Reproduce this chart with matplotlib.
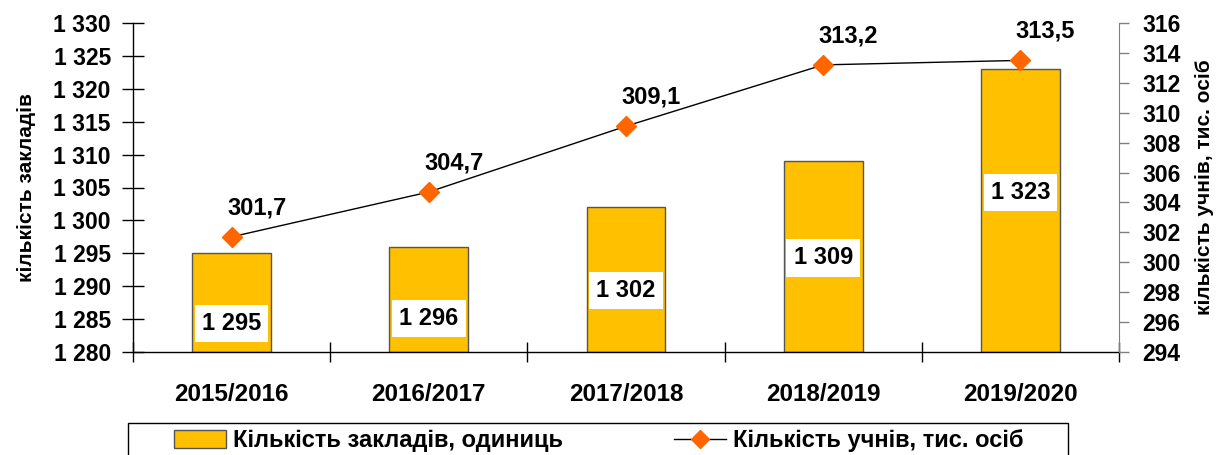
import numpy as np
import matplotlib.pyplot as plt
from matplotlib.lines import Line2D
from matplotlib.patches import Patch, Rectangle

plt.rcParams['font.family'] = ['Liberation Sans', 'DejaVu Sans']
plt.rcParams['font.weight'] = 'bold'

# ── Data ──────────────────────────────────────────────────────────────────────
years    = ['2015/2016', '2016/2017', '2017/2018', '2018/2019', '2019/2020']
schools  = [1295, 1296, 1302, 1309, 1323]          # кількість закладів, одиниць
students = [301.7, 304.7, 309.1, 313.2, 313.5]     # кількість учнів, тис. осіб


def spaced(v):
    return f'{v:,.0f}'.replace(',', ' ')


def comma(v):
    return f'{v:.1f}'.replace('.', ',')


# ── Figure ────────────────────────────────────────────────────────────────────
W, H = 1219, 455
fig = plt.figure(figsize=(W / 100, H / 100), dpi=100)
ax = fig.add_axes([133 / W, 1 - 352 / H, (1119 - 133) / W, (352 - 23) / H])
ax2 = ax.twinx()

x = np.arange(len(years))
bar_col = '#FFC000'
ax.bar(x, [v - 1280 for v in schools], bottom=1280, width=0.4,
       color=bar_col, edgecolor='#555555', linewidth=1.0, zorder=2)

ax.set_xlim(-0.5, len(years) - 0.5)
ax.set_ylim(1280, 1330)
ax.set_yticks(np.arange(1280, 1331, 5))
ax.yaxis.set_major_formatter(plt.FuncFormatter(lambda v, p: spaced(v)))
ax.set_xticks(x)
ax.set_xticklabels(years)
ax.set_xticks(np.arange(-0.5, len(years), 1.0), minor=True)
ax.tick_params(axis='x', which='major', length=0, pad=22, labelsize=17.5)
ax.tick_params(axis='x', which='minor', length=14, direction='inout', width=1)
ax.tick_params(axis='y', direction='inout', length=16, width=1, pad=8, labelsize=16.5)
for lab in ax.get_xticklabels() + ax.get_yticklabels():
    lab.set_fontweight('bold')

ax.spines['top'].set_visible(False)
ax.spines['right'].set_visible(False)
ax.spines['left'].set_linewidth(1)
ax.spines['bottom'].set_linewidth(1)
ax.set_ylabel('кількість закладів', fontsize=15, fontweight='bold', labelpad=12)

# values in white boxes inside the bars
for xi, v in zip(x, schools):
    y_lab = 1280 + 0.71 * (v - 1280) - 6.3
    ax.text(xi, y_lab, spaced(v), ha='center', va='center', fontsize=17,
            fontweight='bold', zorder=3,
            bbox=dict(boxstyle='square,pad=0.3', fc='white', ec='none'))

# ── Line on the secondary axis ───────────────────────────────────────────────
ax2.plot(x, students, color='black', linewidth=1, zorder=4,
         marker='D', markersize=10, markerfacecolor='#FF6600',
         markeredgecolor='#FF6600')
ax2.set_ylim(294, 316)
ax2.set_yticks(np.arange(294, 317, 2))
ax2.tick_params(axis='y', direction='out', length=7, width=1, color='#808080',
                pad=10, labelsize=16.5)
for lab in ax2.get_yticklabels():
    lab.set_fontweight('bold')
for side in ['top', 'left', 'bottom']:
    ax2.spines[side].set_visible(False)
ax2.spines['right'].set_color('#808080')
ax2.set_ylabel('кількість учнів, тис. осіб', fontsize=15, fontweight='bold',
               rotation=90, labelpad=10)

for xi, v in zip(x, students):
    ax2.annotate(comma(v), (xi, v), xytext=(18, 21), textcoords='offset points',
                 ha='center', va='center', fontsize=17, fontweight='bold')

# ── Legend ────────────────────────────────────────────────────────────────────
handles = [
    Patch(facecolor=bar_col, edgecolor='#555555', linewidth=1),
    Line2D([0], [0], color='black', linewidth=1, marker='D', markersize=9,
           markerfacecolor='#FF6600', markeredgecolor='#FF6600'),
]
labels = ['Кількість закладів, одиниць', 'Кількість учнів, тис. осіб']
leg = fig.legend(handles, labels, loc='center left',
                 bbox_to_anchor=(174 / W, 1 - 441 / H), ncol=2, frameon=False,
                 prop={'weight': 'bold', 'size': 17},
                 handlelength=2.2, handleheight=0.8, handletextpad=0.3,
                 columnspacing=4.7, borderpad=0, borderaxespad=0)

# legend frame runs past the bottom edge of the figure
fig.patches.append(Rectangle((128 / W, 1 - 470 / H), (1068 - 128) / W, 47 / H,
                             transform=fig.transFigure, fill=False,
                             edgecolor='black', linewidth=1))

fig.savefig('out.png', dpi=100, facecolor='white')
